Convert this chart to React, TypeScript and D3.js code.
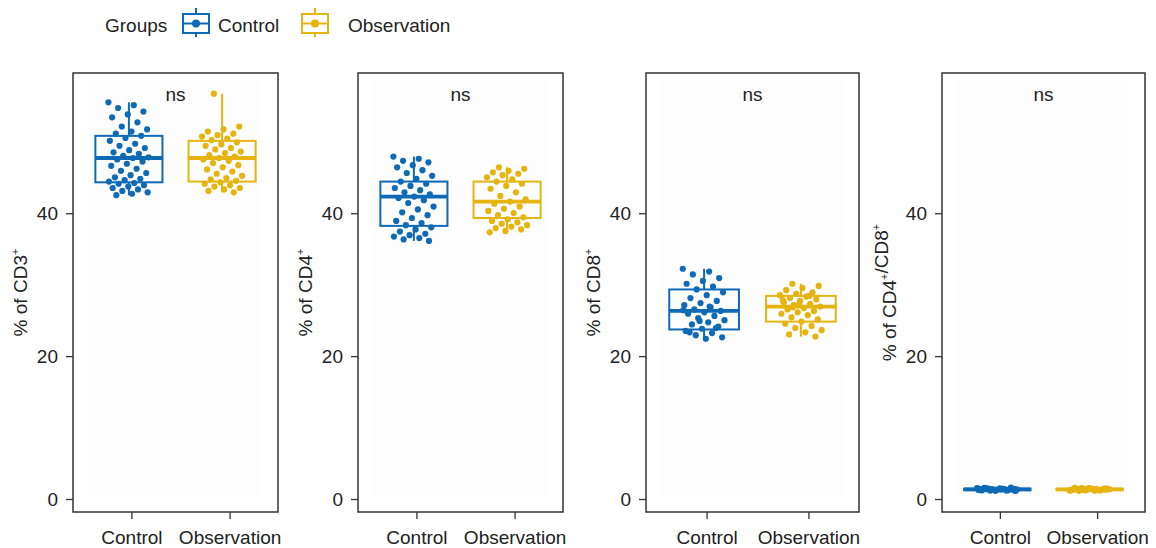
import React, { useEffect, useRef } from 'react';
import * as d3 from 'd3';

// groups and panels
const groups = ['Control', 'Observation'];
const markers = ['CD3', 'CD4', 'CD8', 'CD4/CD8'];

// box summaries: [Control, Observation]
const q1 = [[44.4, 44.5], [38.3, 39.4], [23.8, 24.9], [1.30, 1.31]];
const medians = [[47.8, 47.8], [42.4, 41.7], [26.4, 27.0], [1.42, 1.41]];
const q3 = [[50.9, 50.2], [44.5, 44.5], [29.4, 28.5], [1.52, 1.50]];

// individual samples (% of cells)
const cd3Control = [55.6, 55.2, 54.8, 54.3, 53.9, 53.5, 52.8, 52.2, 51.8, 51.5, 51.2, 50.9, 50.6, 50.2, 49.8, 49.5, 49.2, 48.9, 48.6, 48.4, 48.1, 47.9, 47.8, 47.6, 47.3, 47.0, 46.7, 46.3, 46.0, 45.7, 45.4, 45.1, 44.9, 44.7, 44.5, 44.3, 44.2, 44.0, 43.8, 43.6, 43.4, 43.2, 43.0, 42.8, 42.6];
const cd3Observation = [56.8, 52.2, 51.8, 51.5, 51.2, 51.0, 50.8, 50.5, 50.3, 50.0, 49.7, 49.5, 49.2, 49.0, 48.7, 48.5, 48.2, 48.0, 47.8, 47.6, 47.4, 47.1, 46.8, 46.5, 46.2, 45.9, 45.6, 45.3, 45.0, 44.8, 44.6, 44.4, 44.2, 44.0, 43.8, 43.6, 43.4, 43.2, 43.0];
const cd4Control = [48.0, 47.7, 47.4, 47.2, 46.8, 46.5, 46.1, 45.7, 45.3, 44.9, 44.5, 44.2, 43.9, 43.6, 43.3, 43.0, 42.7, 42.4, 42.2, 41.9, 41.5, 41.0, 40.6, 40.2, 39.8, 39.4, 39.0, 38.7, 38.4, 38.1, 37.8, 37.5, 37.2, 37.0, 36.8, 36.6, 36.4, 36.2];
const cd4Observation = [46.5, 46.3, 46.0, 45.8, 45.6, 45.4, 45.1, 44.8, 44.5, 44.2, 43.9, 43.5, 43.0, 42.5, 42.0, 41.7, 41.4, 41.0, 40.7, 40.4, 40.1, 39.8, 39.5, 39.2, 39.0, 38.8, 38.6, 38.4, 38.2, 38.0, 37.8, 37.6, 37.4];
const cd8Control = [32.3, 31.9, 31.5, 31.0, 30.6, 30.2, 29.8, 29.4, 29.0, 28.6, 28.2, 27.8, 27.5, 27.2, 26.9, 26.6, 26.4, 26.2, 26.0, 25.7, 25.4, 25.1, 24.8, 24.5, 24.2, 23.9, 23.6, 23.3, 23.0, 22.7, 22.5, 23.4, 24.0, 25.0, 26.5, 27.0];
const cd8Observation = [30.2, 29.9, 29.6, 29.3, 29.0, 28.8, 28.6, 28.4, 28.2, 28.0, 27.8, 27.6, 27.4, 27.2, 27.0, 26.8, 26.6, 26.4, 26.2, 26.0, 25.8, 25.5, 25.2, 24.9, 24.6, 24.3, 24.0, 23.7, 23.4, 23.1, 22.8, 27.3, 27.9, 28.5, 26.9];
const ratioControl = [1.6, 1.5, 1.45, 1.4, 1.35, 1.3, 1.28, 1.25, 1.2, 1.55, 1.62, 1.42, 1.38, 1.33, 1.48, 1.52, 1.44, 1.36, 1.31, 1.27, 1.47, 1.41, 1.39, 1.58, 1.65, 1.22, 1.5, 1.43, 1.35, 1.46];
const ratioObservation = [1.58, 1.52, 1.46, 1.41, 1.36, 1.31, 1.27, 1.24, 1.21, 1.54, 1.6, 1.44, 1.39, 1.34, 1.49, 1.5, 1.42, 1.37, 1.32, 1.29, 1.45, 1.4, 1.38, 1.56, 1.63, 1.25, 1.48, 1.43, 1.35, 1.47];

const samples = [
  [cd3Control, cd3Observation],
  [cd4Control, cd4Observation],
  [cd8Control, cd8Observation],
  [ratioControl, ratioObservation],
];

const yTicks = [0, 20, 40];

export default function App() {
  const svgRef = useRef<SVGSVGElement>(null);

  useEffect(() => {
    if (!svgRef.current) return;
    d3.select(svgRef.current).selectAll('*').remove();

    const width = 1156;
    const height = 548;
    const colors = ['#0f6ab6', '#e6b40f'];
    const font = 'Liberation Sans, Arial, Helvetica, sans-serif';
    const ink = '#222';
    const fs = 19;

    const svg = d3.select(svgRef.current)
      .attr('width', width)
      .attr('height', height)
      .style('font-family', font);

    // panel frames (left, right)
    const panels = [[73, 278], [358, 563], [646, 859], [942, 1145]];
    const top = 73;
    const bottom = 512;

    const y = d3.scaleLinear().domain([-1.75, 59.7]).range([bottom, top]);

    panels.forEach(([x0, x1], p) => {
      const g = svg.append('g');
      const x = d3.scalePoint<string>().domain(groups).range([x0, x1]).padding(0.6);
      const step = x.step();
      const boxW = step * 0.72;

      g.append('rect')
        .attr('x', x0 + 16).attr('y', top + 8)
        .attr('width', x1 - x0 - 32).attr('height', bottom - top - 22)
        .attr('fill', '#fdfdfd');

      // y axis
      yTicks.forEach(t => {
        g.append('line')
          .attr('x1', x0 - 7).attr('x2', x0)
          .attr('y1', y(t)).attr('y2', y(t))
          .attr('stroke', '#333').attr('stroke-width', 1.3);
        g.append('text')
          .attr('x', x0 - 15).attr('y', y(t))
          .attr('dy', '0.35em')
          .attr('text-anchor', 'end')
          .attr('font-size', fs)
          .attr('fill', ink)
          .text(t);
      });

      // y title with superscripts
      const title = g.append('text')
        .attr('transform', `translate(${x0 - 53},${(top + bottom) / 2}) rotate(-90)`)
        .attr('text-anchor', 'middle')
        .attr('dy', '0.35em')
        .attr('font-size', fs)
        .attr('fill', ink);
      const parts = markers[p].split('/');
      title.append('tspan').text('% of ');
      parts.forEach((m, i) => {
        title.append('tspan').text((i > 0 ? '/' : '') + m);
        title.append('tspan').attr('dy', -8).attr('font-size', 11).text('+');
        title.append('tspan').attr('dy', 8).attr('font-size', fs).text('');
      });

      // x axis ticks and labels
      const tickShift = [3, 8];
      groups.forEach((grp, i) => {
        const tx = (x(grp) as number) + tickShift[i];
        g.append('line')
          .attr('x1', tx).attr('x2', tx)
          .attr('y1', bottom).attr('y2', bottom + 7)
          .attr('stroke', '#333').attr('stroke-width', 1.3);
        g.append('text')
          .attr('x', tx).attr('y', 544)
          .attr('text-anchor', 'middle')
          .attr('font-size', fs)
          .attr('fill', ink)
          .text(grp);
      });

      // boxes
      groups.forEach((grp, i) => {
        const cx = x(grp) as number;
        const vals = samples[p][i];
        const lo = q1[p][i];
        const hi = q3[p][i];
        const iqr = hi - lo;
        const wLo = d3.min(vals.filter(v => v >= lo - 1.5 * iqr)) as number;
        const wHi = d3.max(vals.filter(v => v <= hi + 1.5 * iqr)) as number;
        const col = colors[i];

        g.append('line')
          .attr('x1', cx).attr('x2', cx)
          .attr('y1', y(hi)).attr('y2', y(wHi))
          .attr('stroke', col).attr('stroke-width', 2);
        g.append('line')
          .attr('x1', cx).attr('x2', cx)
          .attr('y1', y(lo)).attr('y2', y(wLo))
          .attr('stroke', col).attr('stroke-width', 2);
        g.append('rect')
          .attr('x', cx - boxW / 2).attr('y', y(hi))
          .attr('width', boxW).attr('height', Math.max(y(lo) - y(hi), 0.5))
          .attr('fill', 'none')
          .attr('stroke', col).attr('stroke-width', 2);
        g.append('line')
          .attr('x1', cx - boxW / 2).attr('x2', cx + boxW / 2)
          .attr('y1', y(medians[p][i])).attr('y2', y(medians[p][i]))
          .attr('stroke', col).attr('stroke-width', 3.8);
      });

      // jittered points
      groups.forEach((grp, i) => {
        const cx = x(grp) as number;
        g.selectAll(null)
          .data(samples[p][i])
          .enter()
          .append('circle')
          .attr('cx', (_d, k) => cx + (((k * 0.61803398875 + i * 0.3) % 1) - 0.5) * 2 * 0.22 * step)
          .attr('cy', d => y(d))
          .attr('r', 3.1)
          .attr('fill', colors[i]);
      });

      // frame
      g.append('rect')
        .attr('x', x0).attr('y', top)
        .attr('width', x1 - x0).attr('height', bottom - top)
        .attr('fill', 'none')
        .attr('stroke', '#333').attr('stroke-width', 1.5);

      g.append('text')
        .attr('x', (x0 + x1) / 2).attr('y', 101)
        .attr('text-anchor', 'middle')
        .attr('font-size', fs)
        .attr('fill', ink)
        .text('ns');
    });

    // legend
    const legend = svg.append('g');
    legend.append('text')
      .attr('x', 105).attr('y', 32)
      .attr('font-size', fs).attr('fill', ink)
      .text('Groups');
    const keyX = [196, 315];
    const labelX = [218, 348];
    groups.forEach((grp, i) => {
      const kx = keyX[i];
      const col = colors[i];
      legend.append('line')
        .attr('x1', kx).attr('x2', kx).attr('y1', 8).attr('y2', 37)
        .attr('stroke', col).attr('stroke-width', 2);
      legend.append('rect')
        .attr('x', kx - 13).attr('y', 14).attr('width', 26).attr('height', 19)
        .attr('fill', 'white').attr('stroke', col).attr('stroke-width', 2);
      legend.append('line')
        .attr('x1', kx - 13).attr('x2', kx + 13).attr('y1', 23.5).attr('y2', 23.5)
        .attr('stroke', col).attr('stroke-width', 2);
      legend.append('circle')
        .attr('cx', kx).attr('cy', 23.5).attr('r', 4)
        .attr('fill', col);
      legend.append('text')
        .attr('x', labelX[i]).attr('y', 32)
        .attr('font-size', fs).attr('fill', ink)
        .text(grp);
    });
  }, []);

  return (
    <div style={{ position: 'absolute', left: 0, top: 0, background: 'white' }}>
      <svg ref={svgRef}></svg>
    </div>
  );
}
